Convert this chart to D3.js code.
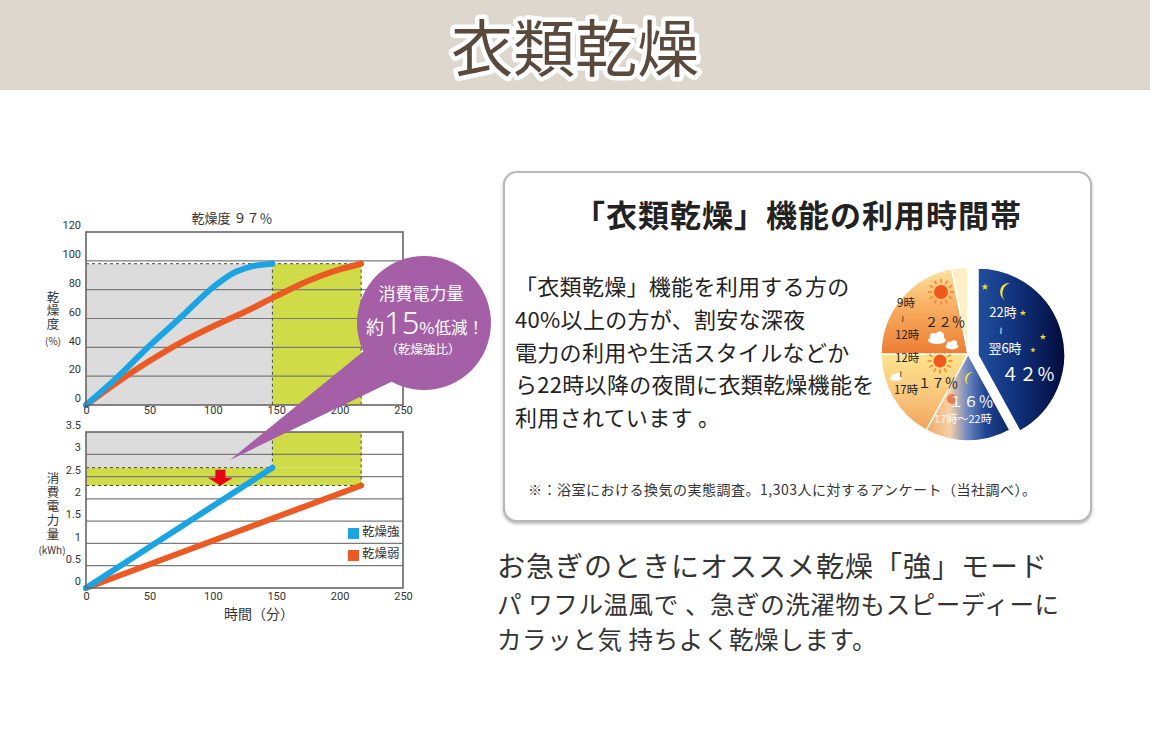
<!DOCTYPE html>
<html>
<head>
<meta charset="utf-8">
<script src="https://cdn.jsdelivr.net/npm/d3@7"></script>
<style>
  body { margin: 0; background: #fff; }
  svg { display: block; font-family: "Noto Sans CJK JP", "Noto Sans", sans-serif; }
</style>
</head>
<body>
<div id="chart-area"></div>
<script>
// ---- data ----
var timeTicks = [0, 50, 100, 150, 200, 250];
var dryTicks = [0, 20, 40, 60, 80, 100, 120];
var powerTicks = [0, 0.5, 1, 1.5, 2, 2.5, 3, 3.5];

// 乾燥度 (%) over time (min)
var dryStrong = [
  {t: 0, v: 0}, {t: 25, v: 19.5}, {t: 50, v: 41}, {t: 75, v: 61},
  {t: 100, v: 81.5}, {t: 115, v: 91}, {t: 130, v: 96}, {t: 147, v: 98}
];
var dryWeak = [
  {t: 0, v: 0}, {t: 25, v: 16}, {t: 50, v: 30.5}, {t: 75, v: 43.5}, {t: 100, v: 54.5},
  {t: 125, v: 64.5}, {t: 150, v: 75.5}, {t: 175, v: 86}, {t: 200, v: 94}, {t: 217, v: 98}
];
// 消費電力量 (kWh)
var powerStrong = [{t: 0, v: 0}, {t: 147, v: 2.7}];
var powerWeak = [{t: 0, v: 0}, {t: 217, v: 2.3}];
var finishStrong = 147, finishWeak = 217, dryTarget = 98;
var legendNames = ["乾燥強", "乾燥弱"];

// 利用時間帯 (%)
var usageLabels = ["22時～翌6時", "17時～22時", "12時～17時", "9時～12時", "その他"];
var usageShares = [42, 16, 17, 22, 3];

var bodyLines = [
  "「衣類乾燥」機能を利用する方の",
  "40%以上の方が、割安な深夜",
  "電力の利用や生活スタイルなどか",
  "ら22時以降の夜間に衣類乾燥機能を",
  "利用されています 。"
];
var footNote = "※：浴室における換気の実態調査。1,303人に対するアンケート（当社調べ）。";
var leadLines = [
  "お急ぎのときにオススメ乾燥「強」モード",
  "パ ワフル温風で 、急ぎの洗濯物もスピーディーに",
  "カラッと気 持ちよく乾燥します。"
];

var blue = "#1aa5e2", orange = "#ec5a24", grayFill = "#dcdcdc", greenFill = "#cfdc48";
var purple = "#a55fa7", gridColor = "#7a7a7a";

// ---- svg ----
var svg = d3.select("#chart-area").append("svg")
    .attr("width", 1150)
    .attr("height", 732);
var defs = svg.append("defs");

// header band
svg.append("rect").attr("x", 0).attr("y", 0).attr("width", 1150).attr("height", 90).attr("fill", "#ddd7cd");
svg.append("text")
    .attr("x", 575).attr("y", 45)
    .attr("text-anchor", "middle").attr("dominant-baseline", "central")
    .attr("font-size", 62).attr("font-weight", 400)
    .attr("fill", "#5a4a3d").attr("stroke", "#fff").attr("stroke-width", 9)
    .attr("stroke-linejoin", "round").attr("paint-order", "stroke")
    .text("衣類乾燥");

//Scales
var x = d3.scaleLinear().domain([0, 250]).range([86, 403]);
var yDry = d3.scaleLinear().domain([0, 120]).range([405, 232]);
var yPow = d3.scaleLinear().domain([0, 3.5]).range([588, 432]);

function rectBetween(g, x0, x1, y, v0, v1, fill) {
  g.append("rect")
    .attr("x", x(x0)).attr("width", x(x1) - x(x0))
    .attr("y", y(v1)).attr("height", y(v0) - y(v1))
    .attr("fill", fill);
}
function dashed(g, x0, y0, x1, y1) {
  g.append("line")
    .attr("x1", x0).attr("y1", y0).attr("x2", x1).attr("y2", y1)
    .attr("stroke", "#444").attr("stroke-width", 1).attr("stroke-dasharray", "3,3");
}
function grid(g, y, values) {
  g.selectAll(null).data(values).enter().append("line")
    .attr("x1", x(0)).attr("x2", x(250))
    .attr("y1", d => y(d)).attr("y2", d => y(d))
    .attr("stroke", gridColor).attr("stroke-width", 1.2);
}
function frame(g, y) {
  g.append("rect")
    .attr("x", x(0)).attr("y", y.range()[1])
    .attr("width", x(250) - x(0)).attr("height", y.range()[0] - y.range()[1])
    .attr("fill", "none").attr("stroke", "#666").attr("stroke-width", 1.6);
}
function axes(g, y, ticks, xLabelY) {
  var yAxisCall = d3.axisLeft(y).tickValues(ticks).tickSize(0).tickPadding(5).tickFormat(d3.format(""));
  var ya = g.append("g").attr("transform", "translate(" + x(0) + ",0)").call(yAxisCall);
  ya.select(".domain").remove();
  ya.selectAll("text").attr("dy", "-0.3em").attr("font-size", 11).attr("fill", "#333")
    .style("font-family", "Roboto, 'Noto Sans', sans-serif");
  var xAxisCall = d3.axisBottom(x).tickValues(timeTicks).tickSize(0).tickPadding(0);
  var xa = g.append("g").attr("transform", "translate(0," + xLabelY + ")").call(xAxisCall);
  xa.select(".domain").remove();
  xa.selectAll("text").attr("font-size", 11).attr("fill", "#333")
    .style("font-family", "Roboto, 'Noto Sans', sans-serif");
}
// vertical axis title, one text element written top to bottom
function verticalTitle(g, str, x0, yFirst, size, gap) {
  g.append("text")
    .attr("x", x0).attr("y", yFirst - size / 2)
    .style("writing-mode", "vertical-rl")
    .attr("font-size", size).attr("letter-spacing", gap).attr("fill", "#333")
    .text(str);
}
// several lines in one text element; each line: [string, size, centreY, optional x]
function stackText(parent, x0, lines, color) {
  var t = parent.append("text").attr("text-anchor", "middle").attr("fill", color);
  lines.forEach(function(l) {
    t.append("tspan").attr("x", l[3] != null ? l[3] : x0).attr("y", l[2] + l[1] * 0.36)
      .attr("font-size", l[1]).text(l[0]);
  });
  return t;
}

// ---- top chart: 乾燥度 ----
var g1 = svg.append("g");
rectBetween(g1, 0, finishStrong, yDry, 0, dryTarget, grayFill);
rectBetween(g1, finishStrong, finishWeak, yDry, 0, dryTarget, greenFill);
grid(g1, yDry, [20, 40, 60, 80, 100]);
dashed(g1, x(0), yDry(dryTarget), x(finishWeak), yDry(dryTarget));
dashed(g1, x(finishStrong), yDry(dryTarget), x(finishStrong), yDry(0));
dashed(g1, x(finishWeak), yDry(dryTarget), x(finishWeak), yDry(0));

var dryLine = d3.line().x(d => x(d.t)).y(d => yDry(d.v)).curve(d3.curveMonotoneX);
g1.append("path").attr("d", dryLine(dryWeak))
    .attr("fill", "none").attr("stroke", orange).attr("stroke-width", 6).attr("stroke-linecap", "round");
g1.append("path").attr("d", dryLine(dryStrong))
    .attr("fill", "none").attr("stroke", blue).attr("stroke-width", 6).attr("stroke-linecap", "round");
frame(g1, yDry);
axes(g1, yDry, dryTicks, 406);

g1.append("text").attr("x", 232).attr("y", 217)
    .attr("text-anchor", "middle").attr("dominant-baseline", "central")
    .attr("font-size", 13).attr("fill", "#333").text("乾燥度 ９７％");
verticalTitle(g1, "乾燥度", 53, 297, 12.5, 1);
g1.append("text").attr("x", 53).attr("y", 340)
    .attr("text-anchor", "middle").attr("dominant-baseline", "central")
    .attr("font-size", 10).attr("fill", "#333").text("(%)");

// ---- bottom chart: 消費電力量 ----
var g2 = svg.append("g");
var topPow = yPow.domain()[1];
var endStrong = powerStrong[powerStrong.length - 1].v, endWeak = powerWeak[powerWeak.length - 1].v;
rectBetween(g2, 0, finishStrong, yPow, endStrong, topPow, grayFill);
rectBetween(g2, 0, finishWeak, yPow, endWeak, endStrong, greenFill);
rectBetween(g2, finishStrong, finishWeak, yPow, endStrong, topPow, greenFill);
grid(g2, yPow, [0.5, 1, 1.5, 2, 2.5, 3]);
dashed(g2, x(0), yPow(endStrong), x(finishStrong), yPow(endStrong));
dashed(g2, x(0), yPow(endWeak), x(finishWeak), yPow(endWeak));
dashed(g2, x(finishStrong), yPow(endStrong), x(finishStrong), yPow(topPow));
dashed(g2, x(finishWeak), yPow(endWeak), x(finishWeak), yPow(topPow));

var powLine = d3.line().x(d => x(d.t)).y(d => yPow(d.v));
g2.append("path").attr("d", powLine(powerWeak))
    .attr("fill", "none").attr("stroke", orange).attr("stroke-width", 6).attr("stroke-linecap", "round");
g2.append("path").attr("d", powLine(powerStrong))
    .attr("fill", "none").attr("stroke", blue).attr("stroke-width", 6).attr("stroke-linecap", "round");
frame(g2, yPow);
axes(g2, yPow, powerTicks, 592);

// red arrow between the two finish levels
var ax = x(106), aTop = yPow(endStrong) + 2, aTip = yPow(endWeak), aMid = aTop + 8;
g2.append("path")
    .attr("d", "M" + (ax - 5) + "," + aTop + "H" + (ax + 5) + "V" + aMid + "H" + (ax + 12.5) +
               "L" + ax + "," + aTip + "L" + (ax - 12.5) + "," + aMid + "H" + (ax - 5) + "Z")
    .attr("fill", "#e60012");

// legend
var legend = g2.selectAll(".legend").data(legendNames).enter().append("g")
    .attr("transform", (d, i) => "translate(348," + (528 + i * 22) + ")");
legend.append("rect").attr("width", 11).attr("height", 11).attr("fill", (d, i) => i ? orange : blue);
legend.append("text").attr("x", 14).attr("y", 2)
    .attr("dominant-baseline", "central").attr("font-size", 12.5).attr("fill", "#333").text(d => d);

verticalTitle(g2, "消費電力量", 53, 478, 12.5, 1.5);
g2.append("text").attr("x", 52).attr("y", 549)
    .attr("text-anchor", "middle").attr("dominant-baseline", "central")
    .attr("font-size", 10).attr("fill", "#333").text("(kWh)");
g2.append("text").attr("x", 259).attr("y", 613)
    .attr("text-anchor", "middle").attr("dominant-baseline", "central")
    .attr("font-size", 14).attr("fill", "#333").text("時間（分）");

// ---- speech bubble ----
var bubble = svg.append("g");
bubble.append("path").attr("d", "M365,350L393,381L230,460Z").attr("fill", purple);
bubble.append("circle").attr("cx", 424).attr("cy", 323).attr("r", 67).attr("fill", purple);
var bt = bubble.append("text").attr("text-anchor", "middle").attr("fill", "#fff");
bt.append("tspan").attr("x", 421).attr("y", 300).attr("font-size", 17).text("消費電力量");
bt.append("tspan").attr("x", 425).attr("y", 334).attr("font-size", 18).text("約");
bt.append("tspan").attr("font-size", 31).attr("font-weight", 300)
    .style("font-family", "'Noto Sans', sans-serif").text("15");
bt.append("tspan").attr("font-size", 16.5).text("%低減！");
bt.append("tspan").attr("x", 423).attr("y", 354).attr("font-size", 12.5).text("（乾燥強比）");

// ---- right panel ----
var shadow = defs.append("filter").attr("id", "shadow").attr("x", "-5%").attr("y", "-5%").attr("width", "110%").attr("height", "115%");
shadow.append("feDropShadow").attr("dx", 0).attr("dy", 2).attr("stdDeviation", 1.5)
    .attr("flood-color", "#888").attr("flood-opacity", 0.6);
svg.append("rect").attr("x", 504).attr("y", 172).attr("width", 587).attr("height", 349).attr("rx", 13)
    .attr("fill", "#fff").attr("stroke", "#b8b8b8").attr("stroke-width", 2).attr("filter", "url(#shadow)");
svg.append("text").attr("x", 798).attr("y", 213)
    .attr("text-anchor", "middle").attr("dominant-baseline", "central")
    .attr("font-size", 31).attr("font-weight", 700).attr("letter-spacing", 1).attr("fill", "#222")
    .text("「衣類乾燥」機能の利用時間帯");

svg.append("g").selectAll("text").data(bodyLines).enter().append("text")
    .attr("x", 515).attr("y", (d, i) => 285 + i * 32.8)
    .attr("dominant-baseline", "central")
    .attr("font-size", 22).attr("letter-spacing", 0.3).attr("fill", "#222").text(d => d);

svg.append("text").attr("x", 528).attr("y", 489)
    .attr("dominant-baseline", "central")
    .attr("font-size", 14).attr("letter-spacing", 0.5).attr("fill", "#333").text(footNote);

// lead text under the panel
var leadSizes = [28, 24.5, 24.5];
var leadY = [565, 603, 638];
svg.append("g").selectAll("text").data(leadLines).enter().append("text")
    .attr("x", 497).attr("y", (d, i) => leadY[i])
    .attr("dominant-baseline", "central")
    .attr("font-size", (d, i) => leadSizes[i])
    .attr("letter-spacing", (d, i) => i ? 0.6 : 1)
    .attr("fill", "#333").text(d => d);

// ---- pie: 利用時間帯 ----
var cx = 968, cy = 354, radius = 87;
function grad(id, x1, y1, x2, y2, stops) {
  var lg = defs.append("linearGradient").attr("id", id).attr("gradientUnits", "userSpaceOnUse")
      .attr("x1", x1).attr("y1", y1).attr("x2", x2).attr("y2", y2);
  lg.selectAll("stop").data(stops).enter().append("stop")
      .attr("offset", d => d[0]).attr("stop-color", d => d[1]);
}
grad("night", -10, 0, 90, 0, [[0, "#2457a6"], [0.45, "#123480"], [1, "#010a38"]]);
grad("dusk", -45, 0, 45, 0, [[0, "#f3a45e"], [0.3, "#f7cfa6"], [0.5, "#6b86c2"], [0.7, "#1d4391"], [1, "#0b2262"]]);
grad("noon", 0, 0, 0, 85, [[0, "#fde48c"], [0.55, "#f9c27a"], [1, "#f0974e"]]);
grad("morning", 0, -88, 0, 0, [[0, "#fde7a6"], [0.45, "#f8b063"], [1, "#ee7d33"]]);
var sliceFills = ["url(#night)", "url(#dusk)", "url(#noon)", "url(#morning)", "#fdf0c6"];

var pie = d3.pie().sort(null).value(d => d);
var arc = d3.arc().innerRadius(0).outerRadius(radius);
var pieG = svg.append("g").attr("transform", "translate(" + cx + "," + cy + ")");
pieG.selectAll("path").data(pie(usageShares)).enter().append("path")
    .attr("d", arc)
    .attr("transform", (d, i) => i === 0 ? "translate(10,1)" : null)
    .attr("fill", (d, i) => sliceFills[i])
    .attr("stroke", "#fff").attr("stroke-width", 1.5);

// decorations: suns, clouds, moons, stars
function sun(px, py, r) {
  var s = pieG.append("g").attr("transform", "translate(" + px + "," + py + ")");
  s.selectAll("line").data(d3.range(12)).enter().append("line")
    .attr("x1", d => Math.cos(d * Math.PI / 6) * (r + 2)).attr("y1", d => Math.sin(d * Math.PI / 6) * (r + 2))
    .attr("x2", d => Math.cos(d * Math.PI / 6) * (r + 6)).attr("y2", d => Math.sin(d * Math.PI / 6) * (r + 6))
    .attr("stroke", "#f4892f").attr("stroke-width", 1.6);
  s.append("circle").attr("r", r).attr("fill", "#ee5a1c");
}
function cloud(px, py, k) {
  var c = pieG.append("g").attr("transform", "translate(" + px + "," + py + ") scale(" + k + ")").attr("fill", "#fff");
  c.append("ellipse").attr("rx", 8).attr("ry", 3.5).attr("cy", 2);
  c.append("circle").attr("cx", -3).attr("cy", -1).attr("r", 3.5);
  c.append("circle").attr("cx", 2.5).attr("cy", -2).attr("r", 4);
}
function moon(px, py, r) {
  pieG.append("path")
    .attr("transform", "translate(" + px + "," + py + ") rotate(20)")
    .attr("d", "M0," + (-r) + "A" + r + "," + r + " 0 1,0 0," + r + "A" + (r * 0.7) + "," + r + " 0 1,1 0," + (-r) + "Z")
    .attr("fill", "#f7e23a");
}
function star(px, py, size) {
  pieG.append("path").attr("transform", "translate(" + px + "," + py + ")")
    .attr("d", d3.symbol(d3.symbolStar, size)()).attr("fill", "#f5d72a");
}
sun(-27, -62, 7);
sun(-28, 7, 6.5);
cloud(-31, -16, 1.1);
cloud(-16, -9, 0.8);
cloud(-72, 23, 0.7);
moon(41, -62, 9);
moon(4, 25, 7);
star(17, -67, 16);
star(55, -41, 14);
star(75, -17, 14);
star(65, -4, 10);
pieG.append("circle").attr("cx", -16).attr("cy", 45).attr("r", 5).attr("fill", "#e8683c").attr("opacity", 0.8);

// slice labels
stackText(pieG, 35, [["22時", 13, -42], ["≀", 10, -24, 33], ["翌6時", 13, -6, 37]], "#fff");
stackText(pieG, 60, [["４２％", 18, 21]], "#fff");
stackText(pieG, -62, [["9時", 11.5, -51], ["≀", 9, -35, -66], ["12時", 11.5, -19, -61]], "#222");
stackText(pieG, -23, [["２２％", 13.5, -32]], "#222");
stackText(pieG, -61, [["12時", 11.5, 4], ["≀", 9, 20, -68], ["17時", 11.5, 36, -62]], "#222");
stackText(pieG, -30, [["１７％", 13.5, 29]], "#222");
stackText(pieG, 3, [["１６％", 15, 48], ["17時～22時", 11, 65, -5]], "#fff");
</script>
</body>
</html>
